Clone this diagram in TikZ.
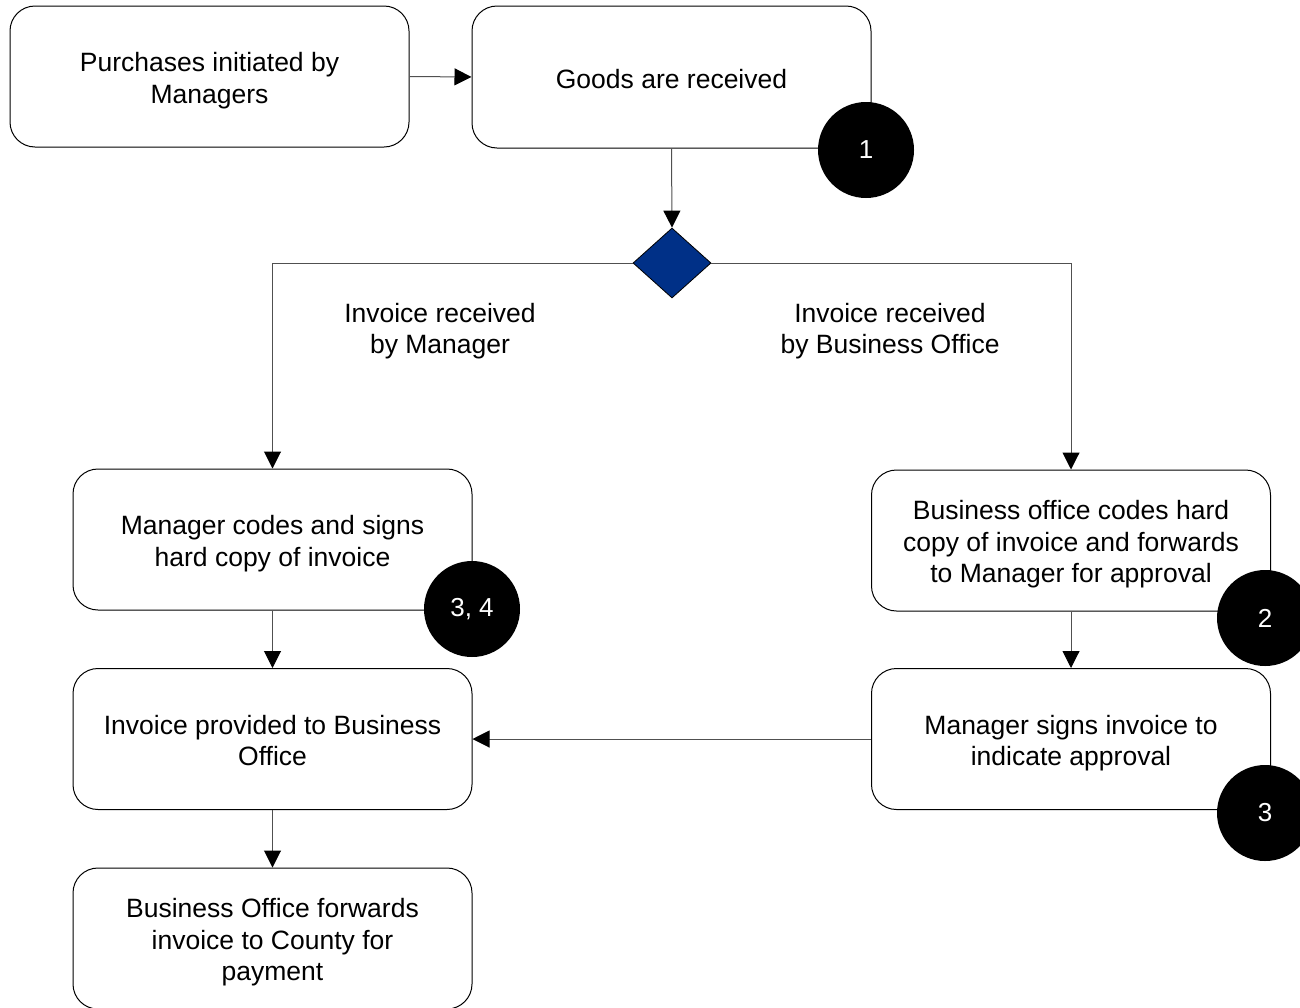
\documentclass[tikz,border=0pt]{standalone}
\usepackage{fontspec}
\setmainfont{Liberation Sans}
\usetikzlibrary{shapes.geometric,arrows.meta}
\definecolor{navy}{RGB}{0,48,135}
\definecolor{conn}{RGB}{80,80,80}
\begin{document}
\begin{tikzpicture}[x=1pt,y=-1pt,
  box/.style={draw=black, line width=1pt, rounded corners=25pt, minimum width=399pt, minimum height=141pt, inner sep=0pt},
  txt/.style={align=center, font=\fontsize{26.5}{31.5}\selectfont, inner sep=0pt, yshift=-4pt},
  badge/.style={circle, fill=black, minimum size=96pt, inner sep=0pt, text=white, font=\fontsize{26}{30}\selectfont, yshift=-1pt},
  conn/.style={draw=conn, line width=1pt, -{Triangle[length=17pt,width=17pt,fill=black,color=black]}}]
\useasboundingbox (0,0) rectangle (1300,1007);
\clip (0,0) rectangle (1300,1007);
\node[box] (A) at (209.5,76.5) {};
\node[box, minimum height=142pt] (B) at (671.5,77) {};
\node[box] (C) at (272.5,539.5) {};
\node[box] (D) at (1071,540.5) {};
\node[box] (E) at (272.5,739) {};
\node[box] (F) at (1071,739) {};
\node[box] (G) at (272.5,938.5) {};
\node[txt] (tA) at (A) {Purchases initiated by\\Managers};
\node[txt, yshift=2pt] (tB) at (B) {Goods are received};
\node[txt] (tC) at (C) {Manager codes and signs\\hard copy of invoice};
\node[txt] (tD) at (D) {Business office codes hard\\copy of invoice and forwards\\to Manager for approval};
\node[txt, yshift=2.5pt] (tE) at (E) {Invoice provided to Business\\Office};
\node[txt] (tF) at (F) {Manager signs invoice to\\indicate approval};
\node[txt] (tG) at (G) {Business Office forwards\\invoice to County for\\payment};
\node[diamond, draw=black, fill=navy, line width=0.8pt, minimum width=78pt, minimum height=70pt, inner sep=0pt] (X) at (672,263) {};
\node[badge] (b1) at (866,149) {1};
\node[badge] (b34) at (472,608) {3, 4};
\node[badge] (b2) at (1265,617) {2};
\node[badge] (b3) at (1265,812) {3};
\node[txt, yshift=0.5pt] (L1) at (440,327.5) {Invoice received\\by Manager};
\node[txt, yshift=0.5pt] (L2) at (890,327.5) {Invoice received\\by Business Office};
\draw[conn] (A.east) -- (B.west);
\draw[conn] (B.south) -- (X.north);
\draw[conn] (X.west) -| (C.north);
\draw[conn] (X.east) -| (D.north);
\draw[conn] (C.south) -- (E.north);
\draw[conn] (D.south) -- (F.north);
\draw[conn] (F.west) -- (E.east);
\draw[conn] (E.south) -- (G.north);
\end{tikzpicture}
\end{document}
